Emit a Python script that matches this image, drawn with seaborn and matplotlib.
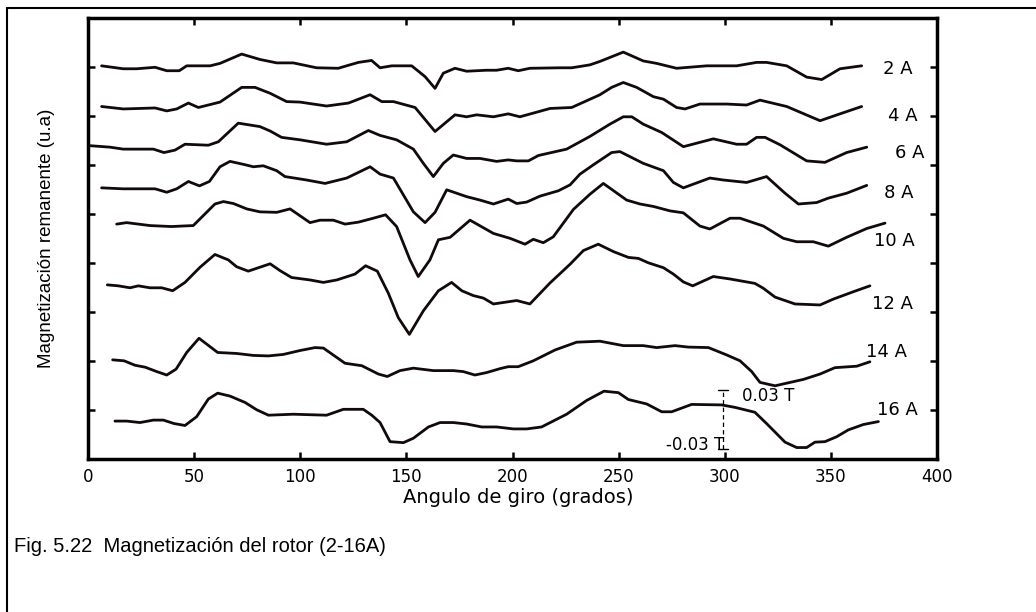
import numpy as np
import pandas as pd
import matplotlib
matplotlib.use("Agg")
import matplotlib.pyplot as plt
import seaborn as sns
from matplotlib.lines import Line2D

# ---------------- data (angle in degrees, remanent magnetisation in u.a.) ----------------
currents = ["2 A", "4 A", "6 A", "8 A", "10 A", "12 A", "14 A", "16 A"]
offsets = [8, 7, 6, 5, 4, 3, 2, 1]

angle_2A = [6.4, 16.6, 22.9, 31.6, 37.1, 43.0, 46.5, 57.5, 62.2, 72.4, 81.0, 88.9, 96.7, 107.7,
            117.9, 123.4, 127.4, 133.6, 137.6, 143.1, 152.5, 158.8, 163.5, 167.4, 172.9, 178.4,
            187.8, 192.5, 198.0, 202.7, 208.2, 222.4, 227.9, 236.5, 241.2, 252.2, 261.6, 267.9,
            277.3, 291.5, 305.6, 315.0, 319.7, 329.2, 338.6, 345.7, 354.3, 364.5]
mag_2A = [0.03, -0.03, -0.03, 0.0, -0.07, -0.07, 0.03, 0.03, 0.08, 0.27, 0.16, 0.09, 0.09, -0.01,
          -0.02, 0.05, 0.10, 0.14, -0.01, 0.03, 0.03, -0.19, -0.43, -0.12, -0.02, -0.08,
          -0.06, -0.06, -0.02, -0.07, -0.02, -0.01, -0.01, 0.05, 0.12, 0.31, 0.13, 0.08,
          -0.02, 0.03, 0.03, 0.10, 0.10, 0.03, -0.20, -0.25, -0.03, 0.03]

angle_4A = [6.4, 16.6, 31.6, 37.1, 41.8, 47.3, 52.0, 62.2, 72.4, 78.7, 85.8, 93.6, 99.9, 112.4,
            122.7, 132.9, 138.4, 143.9, 154.1, 163.5, 172.9, 178.4, 183.1, 191.0, 198.0, 203.5,
            217.7, 227.9, 241.2, 246.7, 252.2, 258.5, 266.4, 271.1, 277.3, 281.3, 288.3, 300.9,
            310.3, 316.6, 329.2, 344.9, 354.3, 364.5]
mag_4A = [0.20, 0.15, 0.17, 0.11, 0.15, 0.27, 0.18, 0.29, 0.59, 0.59, 0.47, 0.30, 0.29, 0.21,
          0.27, 0.44, 0.30, 0.30, 0.18, -0.31, 0.03, -0.01, 0.03, -0.01, 0.05, -0.01,
          0.16, 0.18, 0.44, 0.59, 0.69, 0.59, 0.40, 0.35, 0.18, 0.15, 0.25, 0.25,
          0.23, 0.33, 0.20, -0.09, 0.05, 0.20]

angle_6A = [1.0, 10.4, 16.6, 30.8, 35.8, 41.0, 45.7, 56.7, 61.4, 70.8, 81.0, 85.8, 91.2, 99.9,
            112.4, 121.9, 132.1, 137.6, 145.4, 153.3, 158.0, 162.7, 167.4, 172.1, 178.4, 184.7,
            192.5, 198.0, 202.0, 207.5, 212.2, 225.5, 236.5, 245.9, 252.2, 256.2, 261.6, 270.3,
            280.5, 294.6, 305.6, 310.3, 315.0, 319.0, 326.0, 338.6, 347.2, 357.4, 366.9]
mag_6A = [0.40, 0.37, 0.33, 0.33, 0.26, 0.31, 0.43, 0.41, 0.48, 0.86, 0.79, 0.70, 0.57, 0.52,
          0.43, 0.48, 0.71, 0.61, 0.52, 0.33, 0.04, -0.23, 0.04, 0.21, 0.14, 0.14,
          0.08, 0.11, 0.09, 0.09, 0.20, 0.33, 0.59, 0.84, 0.99, 0.99, 0.84, 0.67,
          0.38, 0.54, 0.43, 0.43, 0.57, 0.57, 0.42, 0.09, 0.06, 0.26, 0.37]

angle_8A = [6.4, 16.6, 31.6, 37.1, 41.8, 47.3, 52.5, 57.2, 62.2, 66.9, 73.2, 77.9, 82.6, 88.9,
            92.8, 103.0, 111.7, 121.9, 132.9, 137.6, 143.9, 153.3, 158.8, 163.5, 169.0, 178.4,
            184.7, 191.0, 198.0, 202.0, 206.7, 212.9, 221.6, 227.1, 231.8, 238.1, 246.7, 250.6,
            261.6, 271.1, 275.8, 280.5, 293.0, 299.3, 310.3, 319.7, 328.4, 334.7, 343.3, 348.8,
            357.4, 366.9]
mag_8A = [0.54, 0.52, 0.52, 0.45, 0.52, 0.67, 0.58, 0.67, 0.97, 1.08, 1.02, 0.97, 0.99, 0.89,
          0.77, 0.70, 0.63, 0.74, 0.97, 0.82, 0.74, 0.05, -0.17, 0.04, 0.50, 0.36,
          0.29, 0.21, 0.31, 0.22, 0.25, 0.37, 0.48, 0.60, 0.82, 1.01, 1.26, 1.28,
          1.04, 0.89, 0.65, 0.54, 0.74, 0.70, 0.65, 0.77, 0.43, 0.21, 0.24, 0.33,
          0.43, 0.59]

angle_10A = [13.5, 18.2, 29.2, 39.4, 44.1, 49.6, 59.8, 63.8, 68.5, 74.8, 81.0, 88.9, 95.2, 104.6,
             109.3, 115.6, 121.1, 127.4, 134.4, 140.2, 145.4, 151.7, 155.6, 161.1, 165.1, 170.6,
             180.0, 191.0, 198.8, 205.9, 209.8, 214.5, 219.2, 228.7, 236.5, 242.8, 253.8, 260.1,
             266.4, 274.2, 280.5, 288.3, 293.0, 302.5, 307.2, 318.2, 327.6, 333.9, 341.7, 348.8,
             357.4, 366.9, 375.5]
mag_10A = [0.80, 0.83, 0.77, 0.75, 0.76, 0.77, 1.21, 1.26, 1.22, 1.11, 1.05, 1.04, 1.11, 0.83,
           0.88, 0.88, 0.80, 0.84, 0.92, 0.99, 0.75, 0.07, -0.27, 0.07, 0.48, 0.53,
           0.88, 0.61, 0.51, 0.39, 0.49, 0.42, 0.54, 1.10, 1.41, 1.63, 1.29, 1.21,
           1.16, 1.07, 1.03, 0.76, 0.70, 0.92, 0.92, 0.76, 0.51, 0.44, 0.44, 0.35,
           0.53, 0.71, 0.82]

angle_12A = [9.1, 14.3, 19.8, 23.7, 29.2, 34.7, 39.9, 45.7, 52.8, 59.8, 66.1, 70.0, 75.5, 81.0,
             85.8, 90.5, 95.9, 104.6, 110.9, 117.2, 125.8, 130.8, 136.3, 141.5, 146.2, 151.4,
             158.0, 165.1, 171.3, 176.1, 181.6, 186.3, 191.0, 198.8, 202.0, 208.2, 217.7, 227.1,
             233.4, 240.4, 247.5, 254.6, 259.3, 264.0, 271.1, 275.8, 280.5, 284.9, 294.6, 302.5,
             314.2, 318.2, 323.7, 333.1, 344.9, 351.2, 360.6, 368.4]
mag_12A = [0.56, 0.54, 0.50, 0.54, 0.50, 0.50, 0.44, 0.61, 0.92, 1.18, 1.07, 0.93, 0.84, 0.92,
           0.99, 0.85, 0.71, 0.66, 0.61, 0.66, 0.78, 0.95, 0.84, 0.39, -0.11, -0.45,
           0.03, 0.44, 0.61, 0.44, 0.34, 0.29, 0.17, 0.22, 0.24, 0.17, 0.60, 0.98,
           1.26, 1.39, 1.24, 1.12, 1.10, 1.01, 0.91, 0.78, 0.62, 0.54, 0.73, 0.68,
           0.59, 0.49, 0.31, 0.17, 0.15, 0.27, 0.42, 0.54]

angle_14A = [11.6, 17.0, 22.1, 26.9, 32.4, 37.1, 41.5, 46.5, 52.3, 61.1, 70.0, 77.9, 85.0, 92.0,
             99.9, 107.0, 110.9, 121.1, 129.0, 136.8, 141.0, 147.0, 153.3, 162.7, 172.1, 176.8,
             182.3, 187.8, 194.1, 198.0, 202.7, 209.8, 220.0, 230.2, 241.2, 252.2, 261.6, 267.9,
             276.6, 282.8, 292.3, 300.9, 307.2, 312.7, 316.6, 323.7, 337.0, 344.9, 351.9, 362.2,
             368.4]
mag_14A = [0.03, 0.01, -0.08, -0.12, -0.21, -0.28, -0.16, 0.18, 0.47, 0.18, 0.16, 0.12, 0.11, 0.14,
           0.22, 0.28, 0.27, -0.04, -0.09, -0.26, -0.31, -0.19, -0.14, -0.19, -0.19, -0.21,
           -0.28, -0.23, -0.15, -0.11, -0.11, 0.01, 0.23, 0.39, 0.41, 0.32, 0.32, 0.28,
           0.32, 0.29, 0.28, 0.13, 0.01, -0.21, -0.43, -0.50, -0.37, -0.26, -0.13, -0.10,
           -0.01]

angle_16A = [12.7, 18.2, 24.5, 30.8, 35.5, 40.5, 45.7, 51.2, 56.7, 61.1, 66.9, 74.0, 79.5, 85.0,
             96.7, 112.4, 120.3, 129.7, 133.7, 137.6, 142.3, 148.6, 153.3, 160.4, 165.9, 172.1,
             178.4, 185.5, 192.5, 200.4, 206.7, 213.7, 225.5, 234.9, 243.1, 249.9, 254.6, 263.2,
             270.3, 275.0, 284.4, 298.5, 304.8, 314.2, 319.7, 328.4, 333.9, 338.6, 342.5, 347.2,
             352.7, 358.2, 365.3, 372.4]
mag_16A = [-0.22, -0.22, -0.25, -0.20, -0.20, -0.27, -0.31, -0.13, 0.23, 0.35, 0.29, 0.16, 0.01, -0.10,
           -0.08, -0.10, 0.02, 0.02, -0.10, -0.25, -0.64, -0.66, -0.57, -0.34, -0.25, -0.25,
           -0.28, -0.34, -0.34, -0.38, -0.38, -0.34, -0.08, 0.20, 0.39, 0.36, 0.22, 0.13,
           -0.03, -0.03, 0.12, 0.11, 0.06, -0.04, -0.27, -0.65, -0.76, -0.76, -0.65, -0.64,
           -0.54, -0.40, -0.29, -0.23]

angles = [angle_2A, angle_4A, angle_6A, angle_8A, angle_10A, angle_12A, angle_14A, angle_16A]
mags = [mag_2A, mag_4A, mag_6A, mag_8A, mag_10A, mag_12A, mag_14A, mag_16A]

x_ticks = [0, 50, 100, 150, 200, 250, 300, 350, 400]
x_label = "Angulo de giro (grados)"
y_label = "Magnetización remanente (u.a)"
caption = "Fig. 5.22  Magnetización del rotor (2-16A)"

# scale bar: +-0.03 T, 1 axis unit = 0.05 T
scale_T = 0.03
T_per_unit = 0.05
scale_labels = ["0.03 T", "-0.03 T"]

# ---------------- layout (not data) ----------------
label_x = [381.6, 384.0, 387.3, 382.1, 379.7, 378.8, 376.4, 381.2]
label_dy = [-0.035, 0.016, 0.26, 0.43, 0.455, 0.17, 0.18, 0.006]
scale_x = 299.0
scale_center = 0.81

# ---------------- build long-form frame ----------------
frames = []
for cur, off, a, m in zip(currents, offsets, angles, mags):
    frames.append(pd.DataFrame({"angle": a, "value": np.asarray(m) + off, "current": cur}))
df = pd.concat(frames, ignore_index=True)

sns.set_theme(style="ticks")
plt.rcParams["font.family"] = ["DejaVu Sans"]

W, H = 1036, 612
fig = plt.figure(figsize=(W / 100, H / 100), dpi=100)
ax = fig.add_axes([88 / W, 1 - 459.3 / H, (937 - 88) / W, (459.3 - 18.3) / H])

ink = "#120a0a"
sns.lineplot(data=df, x="angle", y="value", hue="current", hue_order=currents,
             palette=[ink] * len(currents), estimator=None, sort=False, legend=False,
             linewidth=2.0, ax=ax)

for cur, off, lx, ldy in zip(currents, offsets, label_x, label_dy):
    ax.text(lx, off + ldy, cur, ha="center", va="center", fontsize=13, color="black")

# scale bar
half = scale_T / T_per_unit
ax.plot([scale_x, scale_x], [scale_center - half, scale_center + half], color="black",
        lw=0.9, linestyle=(0, (3.5, 2.5)))
for yy in (scale_center - half, scale_center + half):
    ax.plot([scale_x - 2.4, scale_x + 2.4], [yy, yy], color="black", lw=1.0)
ax.text(scale_x + 9, scale_center + half - 0.12, scale_labels[0], ha="left", va="center",
        fontsize=12, color="black")
ax.text(scale_x + 1, scale_center - half + 0.08, scale_labels[1], ha="right", va="center",
        fontsize=12, color="black")

ax.set_xlim(0, 400)
ax.set_ylim(0, 9)
ax.set_xticks(x_ticks)
ax.set_xticklabels([str(t) for t in x_ticks])
ax.set_yticks(offsets)
ax.set_yticklabels([])
ax.tick_params(axis="both", which="both", direction="in", length=5, width=1.8,
               top=True, right=True, colors="black")
ax.tick_params(axis="x", labelsize=12, pad=6.5)
for s in ax.spines.values():
    s.set_linewidth(2.5)
    s.set_color("black")

ax.set_xlabel(x_label, fontsize=14, color="black")
ax.xaxis.set_label_coords(0.507, -0.066)
ax.xaxis.label.set_va("top")
ax.set_ylabel(y_label, fontsize=13.5, color="black", family=["Liberation Sans", "DejaVu Sans"])
ax.yaxis.set_label_coords(-0.039, 0.5)

fig.text(14 / W, 1 - 551.7 / H, caption, ha="left", va="baseline", fontsize=14.5,
         family=["Liberation Sans", "DejaVu Sans"], color="black")

# outer page frame (left and top edges)
fig.add_artist(Line2D([7.3 / W, 7.3 / W], [0, 1 - 8.3 / H], transform=fig.transFigure,
                      color="black", lw=1.5))
fig.add_artist(Line2D([7.3 / W, 1], [1 - 8.3 / H, 1 - 8.3 / H], transform=fig.transFigure,
                      color="black", lw=1.5))

fig.savefig("out.png", dpi=100, facecolor="white")
